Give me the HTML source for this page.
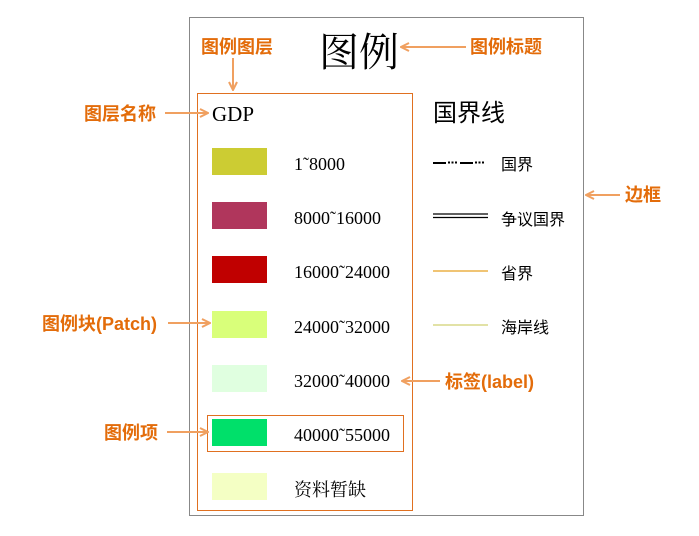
<!DOCTYPE html>
<html><head><meta charset="utf-8"><style>
html,body{margin:0;padding:0;background:#fff;width:699px;height:536px;overflow:hidden}
</style></head><body>
<svg width="699" height="536" xmlns="http://www.w3.org/2000/svg">
<defs><marker id="a" markerWidth="10" markerHeight="10" refX="9" refY="5" orient="auto" markerUnits="userSpaceOnUse"><path d="M1,1 L9,5 L1,9" fill="none" stroke="#f0a060" stroke-width="2"/></marker></defs>
<rect x="189.5" y="17.5" width="394" height="498" fill="none" stroke="#888" stroke-width="1"/>
<rect x="197.5" y="93.5" width="215" height="417" fill="none" stroke="#e07020" stroke-width="1"/>
<rect x="207.5" y="415.5" width="196" height="36" fill="none" stroke="#e07020" stroke-width="1"/>
<text x="319" y="66" font-family="Liberation Serif, Noto Serif CJK SC, serif" font-size="40" fill="#000">图例</text>
<text x="212" y="121" font-family="Liberation Serif, serif" font-size="21" fill="#000">GDP</text>
<text x="433" y="121" font-family="Liberation Sans, Noto Sans CJK SC, sans-serif" font-size="24" fill="#000">国界线</text>
<g font-family="Liberation Serif, serif" font-size="18" fill="#000">
<rect x="212" y="148" width="55" height="27" fill="#cccc33"/><text x="294" y="170">1˜8000</text>
<rect x="212" y="202" width="55" height="27" fill="#b0365c"/><text x="294" y="224">8000˜16000</text>
<rect x="212" y="256" width="55" height="27" fill="#c00000"/><text x="294" y="278">16000˜24000</text>
<rect x="212" y="311" width="55" height="27" fill="#d9ff7a"/><text x="294" y="333">24000˜32000</text>
<rect x="212" y="365" width="55" height="27" fill="#e0ffe0"/><text x="294" y="387">32000˜40000</text>
<rect x="212" y="419" width="55" height="27" fill="#00e06a"/><text x="294" y="441">40000˜55000</text>
<rect x="212" y="473" width="55" height="27" fill="#f4ffc4"/><text x="294" y="496" font-family="Liberation Serif, Noto Serif CJK SC, serif">资料暂缺</text>
</g>
<g font-family="Liberation Sans, Noto Sans CJK SC, sans-serif" font-size="16" fill="#000">
<line x1="433" y1="163" x2="446" y2="163" stroke="#000" stroke-width="2"/>
<line x1="448" y1="162.5" x2="458" y2="162.5" stroke="#000" stroke-width="2" stroke-dasharray="2,1.5"/>
<line x1="460" y1="163" x2="473" y2="163" stroke="#000" stroke-width="2"/>
<line x1="475" y1="162.5" x2="485" y2="162.5" stroke="#000" stroke-width="2" stroke-dasharray="2,1.5"/>
<text x="501" y="170">国界</text>
<line x1="433" y1="214" x2="488" y2="214" stroke="#000" stroke-width="1.2"/>
<line x1="433" y1="217.5" x2="488" y2="217.5" stroke="#000" stroke-width="1.2"/>
<text x="501" y="225">争议国界</text>
<line x1="433" y1="271" x2="488" y2="271" stroke="#e8a020" stroke-width="1.2"/>
<text x="501" y="279">省界</text>
<line x1="433" y1="325" x2="488" y2="325" stroke="#d0d070" stroke-width="1.2"/>
<text x="501" y="333">海岸线</text>
</g>
<g stroke="#f0a060" stroke-width="2" fill="none">
<line x1="233" y1="58" x2="233" y2="90" marker-end="url(#a)"/>
<line x1="466" y1="47" x2="401" y2="47" marker-end="url(#a)"/>
<line x1="165" y1="113" x2="208" y2="113" marker-end="url(#a)"/>
<line x1="620" y1="195" x2="586" y2="195" marker-end="url(#a)"/>
<line x1="168" y1="323" x2="210" y2="323" marker-end="url(#a)"/>
<line x1="440" y1="381" x2="402" y2="381" marker-end="url(#a)"/>
<line x1="167" y1="432" x2="208" y2="432" marker-end="url(#a)"/>
</g>
<g font-family="Liberation Sans, Noto Sans CJK SC, sans-serif" font-size="18" font-weight="bold" fill="#e36c0a">
<text x="201" y="53">图例图层</text>
<text x="470" y="53">图例标题</text>
<text x="84" y="120">图层名称</text>
<text x="625" y="201">边框</text>
<text x="42" y="330">图例块(Patch)</text>
<text x="445" y="388">标签(label)</text>
<text x="104" y="439">图例项</text>
</g>
</svg>
</body></html>
